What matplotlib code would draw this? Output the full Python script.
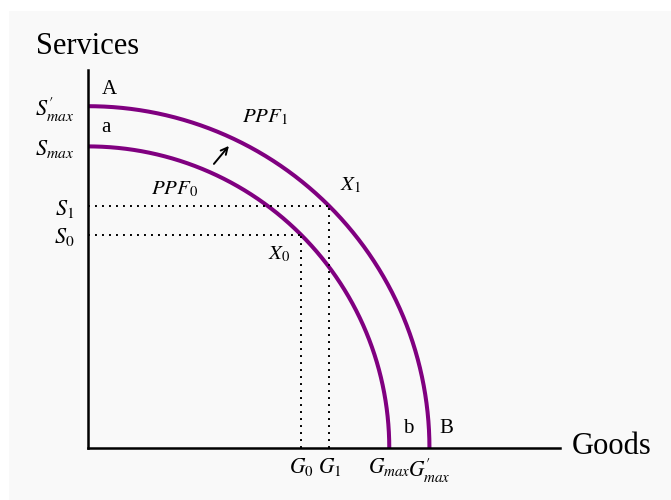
import numpy as np
import matplotlib
matplotlib.use("Agg")
import matplotlib.pyplot as plt
from matplotlib.patches import Rectangle

plt.rcParams['font.family'] = ['Liberation Serif', 'DejaVu Serif']
plt.rcParams['mathtext.fontset'] = 'stix'

# data
r_ppf0 = 3.0           # radius of PPF0 (Gmax = Smax)
r_ppf1 = 3.4           # radius of PPF1 (G'max = S'max)
point_angle_deg = 45.0 # X0 and X1 on the diagonal
x_max = 4.70
y_max = 3.76
xtick_labels = [r"$G_0$", r"$G_1$", r"$G_{max}$", r"$G^{\prime}_{max}$"]
ytick_labels = [r"$S_0$", r"$S_1$", r"$S_{max}$", r"$S^{\prime}_{max}$"]

W, H = 671, 500
fig = plt.figure(figsize=(W / 100, H / 100), dpi=100)
fig.patch.set_facecolor('white')
fig.patches.append(Rectangle((9 / W, 0), 1 - 9 / W, (H - 11) / H,
                             transform=fig.transFigure, facecolor='#f9f9f9',
                             edgecolor='none', zorder=-10))

ax = fig.add_axes([88 / W, (H - 448) / H, 472 / W, 378 / H])
ax.set_facecolor('none')
ax.set_xlim(0, x_max)
ax.set_ylim(0, y_max)
for s in ['top', 'right']:
    ax.spines[s].set_visible(False)
for s in ['left', 'bottom']:
    ax.spines[s].set_linewidth(1.8)
    ax.spines[s].set_color('black')

th = np.linspace(0, np.pi / 2, 300)
purple = '#800080'
for r in (r_ppf0, r_ppf1):
    ax.plot(r * np.cos(th), r * np.sin(th), color=purple, lw=2.9,
            solid_capstyle='butt', clip_on=False)

a = np.deg2rad(point_angle_deg)
x0, y0 = r_ppf0 * np.cos(a), r_ppf0 * np.sin(a)
x1, y1 = r_ppf1 * np.cos(a), r_ppf1 * np.sin(a)
for (px, py) in ((x0, y0), (x1, y1)):
    ax.plot([0, px], [py, py], color='black', lw=1.4, ls=(0, (1, 2.6)))
    ax.plot([px, px], [0, py], color='black', lw=1.4, ls=(0, (1, 2.6)))

ax.set_xticks([x0, x1, r_ppf0, r_ppf1])
ax.set_xticklabels(xtick_labels, fontsize=15.5)
ax.set_yticks([y0, y1, r_ppf0, r_ppf1])
ax.set_yticklabels(ytick_labels, fontsize=16)
ax.tick_params(axis='x', length=0, pad=6)
ax.tick_params(axis='y', length=0, pad=10)


def px2d(px, py):
    return (px - 88) / 100.5, (448 - py) / 100.5


fs = 15
for txt, (px, py), ha in [
    ("A", (109, 90), 'center'),
    ("a", (106, 128), 'center'),
    ("b", (408, 429), 'center'),
    ("B", (447, 429), 'center'),
    (r"$PPF_1$", (265, 118), 'center'),
    (r"$PPF_0$", (175, 190), 'center'),
    (r"$X_1$", (351, 186), 'center'),
    (r"$X_0$", (279, 255), 'center'),
]:
    dx, dy = px2d(px, py)
    ax.text(dx, dy, txt, fontsize=fs, ha=ha, va='center', clip_on=False)

tail = px2d(214, 164)
head = px2d(229, 146)
ax.annotate("", xy=head, xytext=tail,
            arrowprops=dict(arrowstyle='->', color='black', lw=1.4,
                            mutation_scale=12, shrinkA=0, shrinkB=0))

fig.text(36 / W, 1 - 47 / H, "Services", fontsize=22, ha='left', va='center')
fig.text(572 / W, 1 - 447 / H, "Goods", fontsize=22, ha='left', va='center')

fig.savefig("out.png", dpi=100)
